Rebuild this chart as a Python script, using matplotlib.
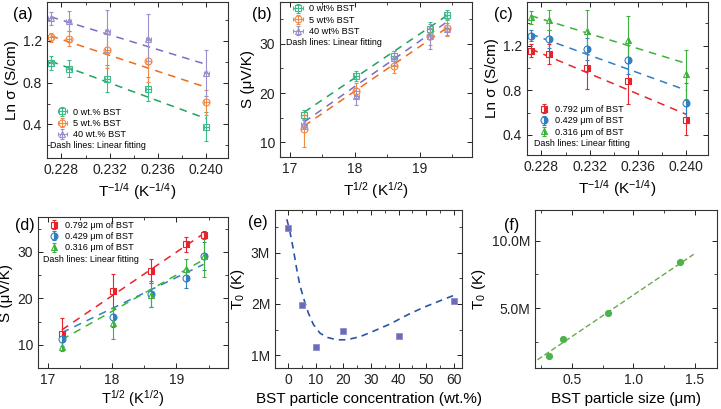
import matplotlib

matplotlib.use("Agg")

import matplotlib.pyplot as plt  # noqa: E402
from matplotlib.ticker import FuncFormatter, MultipleLocator  # noqa: E402

plt.rcParams["font.family"] = ["Liberation Sans", "DejaVu Sans"]
plt.rcParams["mathtext.fontset"] = "custom"
plt.rcParams["mathtext.rm"] = "Liberation Sans"
plt.rcParams["mathtext.it"] = "Liberation Sans:italic"
plt.rcParams["mathtext.bf"] = "Liberation Sans:bold"

# x values shared by the temperature panels
inv_t = [0.2271, 0.2286, 0.2318, 0.2352, 0.2400]  # T^-1/4
sqrt_t = [17.22, 18.02, 18.60, 19.15, 19.42]  # T^1/2

wt_labels_a = ["0 wt.% BST", "5 wt.% BST", "40 wt.% BST"]
wt_labels_b = ["0 wt% BST", "5 wt% BST", "40 wt% BST"]
size_labels = ["0.792 μm of BST", "0.429 μm of BST", "0.316 μm of BST"]

# (a) ln sigma vs T^-1/4, BST content
lnsig_0wt = [0.987, 0.933, 0.839, 0.739, 0.378]
lnsig_0wt_err = [0.067, 0.083, 0.13, 0.11, 0.14]
lnsig_5wt = [1.231, 1.219, 1.115, 1.005, 0.613]
lnsig_5wt_err = [0.045, 0.07, 0.18, 0.2, 0.12]
lnsig_40wt = [1.413, 1.388, 1.294, 1.216, 0.896]
lnsig_40wt_err = [0.063, 0.095, 0.2, 0.24, 0.22]
fit_lnsig_0wt = [1.005, 0.456]
fit_lnsig_5wt = [1.247, 0.755]
fit_lnsig_40wt = [1.429, 0.974]

# (b) S vs T^1/2, BST content
s_0wt = [15.5, 23.5, 27.5, 33.0, 35.8]
s_0wt_err = [1.0, 1.0, 1.0, 1.5, 1.0]
s_5wt = [12.6, 20.5, 25.5, 31.5, 33.3]
s_5wt_err = [3.6, 1.5, 1.5, 1.8, 1.8]
s_40wt = [13.8, 19.3, 27.1, 31.5, 33.0]
s_40wt_err = [1.0, 1.8, 1.5, 2.5, 1.2]
fit_s_0wt = [16.1, 35.8]
fit_s_5wt = [13.3, 33.3]
fit_s_40wt = [14.1, 34.5]

# (c) ln sigma vs T^-1/4, particle size
lnsig_0792 = [1.155, 1.126, 1.0, 0.887, 0.53]
lnsig_0792_err = [0.06, 0.09, 0.19, 0.21, 0.13]
lnsig_0429 = [1.289, 1.26, 1.17, 1.075, 0.688]
lnsig_0429_err = [0.05, 0.08, 0.1, 0.13, 0.18]
lnsig_0316 = [1.453, 1.432, 1.334, 1.254, 0.941]
lnsig_0316_err = [0.06, 0.09, 0.18, 0.21, 0.22]
fit_lnsig_0792 = [1.17, 0.584]
fit_lnsig_0429 = [1.304, 0.80]
fit_lnsig_0316 = [1.468, 1.04]

# (d) S vs T^1/2, particle size
s_0792 = [12.3, 21.6, 25.9, 31.6, 33.6]
s_0792_err = [3.4, 3.7, 2.5, 1.7, 0.8]
s_0429 = [11.2, 15.9, 20.9, 24.3, 29.1]
s_0429_err = [1.5, 2.0, 2.8, 2.0, 3.0]
s_0316 = [9.6, 14.6, 20.7, 26.4, 29.1]
s_0316_err = [1.0, 3.4, 2.5, 2.0, 4.5]
fit_s_0792 = [13.2, 33.9]
fit_s_0429 = [12.6, 27.3]
fit_s_0316 = [11.1, 28.3]

# (e) T0 vs concentration
conc = [0, 5, 10, 20, 40, 60]
t0_conc = [3.485e6, 1.974e6, 1.155e6, 1.48e6, 1.383e6, 2.05e6]
curve_conc = [-0.5, 0.6, 1.8, 3.0, 4.2, 5.5, 7.3, 9.1, 11.5, 13.9, 17.6, 21.2,
              26, 31, 37, 43, 49, 55, 61.2]
curve_t0 = [3.65e6, 3.41e6, 3.08e6, 2.70e6, 2.37e6, 2.12e6, 1.82e6, 1.60e6,
            1.43e6, 1.35e6, 1.30e6, 1.30e6, 1.36e6, 1.47e6, 1.61e6, 1.78e6,
            1.93e6, 2.06e6, 2.19e6]

# (f) T0 vs particle size
size_um = [0.316, 0.429, 0.792, 1.38]
t0_size = [1.41e6, 2.70e6, 4.67e6, 8.42e6]
fit_size = [0.22, 1.49]
fit_t0_size = [1.15e6, 9.0e6]

GREEN_A, ORANGE_A, PURPLE_A = "#3dbb8a", "#f08a45", "#9a90d0"
GREEN_AF, ORANGE_AF, PURPLE_AF = "#22a35e", "#f06a1c", "#7a6ec4"
RED, BLUE, GREEN_C = "#e8232b", "#2f7fc1", "#3cb43c"

W, H = 721, 409


def add_axes_px(fig, left, top, right, bottom):
    return fig.add_axes([left / W, 1 - bottom / H, (right - left) / W, (bottom - top) / H])


def style_axes(ax):
    ax.tick_params(which="both", direction="in", top=True, right=True, labelsize=10,
                   colors="#222222")
    ax.tick_params(which="major", length=3.5, width=0.7)
    ax.tick_params(which="minor", length=2, width=0.6)
    for spine in ax.spines.values():
        spine.set_linewidth(0.8)
        spine.set_color("#333333")


def draw_series(ax, x, y, err, xerr, color, marker, label, **kw):
    return ax.errorbar(x, y, yerr=err, xerr=xerr, fmt=marker, color=color, ms=5,
                       mew=0.8, elinewidth=0.8, capsize=1.5, capthick=0.6,
                       label=label, **kw)


def add_legend(ax, handles, labels, anchor, loc):
    leg = ax.legend(handles, labels, loc=loc, bbox_to_anchor=anchor, frameon=False,
                    fontsize=6.6, handlelength=1.0, handletextpad=0.7,
                    labelspacing=0.25, borderpad=0.0, borderaxespad=0.0)
    return leg


def main() -> None:
    fig = plt.figure(figsize=(7.21, 4.09), dpi=100)

    # ---- (a)
    ax = add_axes_px(fig, 47, 2, 228, 158)
    h = []
    for y, e, fit, col, fcol, mk in [
        (lnsig_0wt, lnsig_0wt_err, fit_lnsig_0wt, GREEN_A, GREEN_AF, "s"),
        (lnsig_5wt, lnsig_5wt_err, fit_lnsig_5wt, ORANGE_A, ORANGE_AF, "o"),
        (lnsig_40wt, lnsig_40wt_err, fit_lnsig_40wt, PURPLE_A, PURPLE_AF, "^"),
    ]:
        ax.plot([inv_t[0], inv_t[-1]], fit, ls=(0, (5, 4)), color=fcol, lw=1.1)
        h.append(draw_series(ax, inv_t, y, e, 0.0002, col, mk, None, mfc="none"))
    ax.set_xlim(0.2268, 0.2418)
    ax.set_ylim(0.08, 1.57)
    ax.xaxis.set_major_locator(MultipleLocator(0.004))
    ax.xaxis.set_minor_locator(MultipleLocator(0.002))
    ax.yaxis.set_major_locator(MultipleLocator(0.4))
    ax.yaxis.set_minor_locator(MultipleLocator(0.2))
    style_axes(ax)
    ax.set_xlabel(r"T$^{-1/4}$ (K$^{-1/4}$)", fontsize=11, labelpad=3)
    ax.set_ylabel("Ln σ (S/cm)", fontsize=11, labelpad=3)
    add_legend(ax, h, wt_labels_a, (0.06, 0.12), "lower left")
    ax.text(0.015, 0.078, "Dash lines: Linear fitting", transform=ax.transAxes,
            fontsize=6.4, va="center")

    # ---- (b)
    ax = add_axes_px(fig, 280, 2, 472, 157)
    h = []
    for y, e, fit, col, fcol, mk in [
        (s_0wt, s_0wt_err, fit_s_0wt, GREEN_A, GREEN_AF, "s"),
        (s_5wt, s_5wt_err, fit_s_5wt, ORANGE_A, ORANGE_AF, "o"),
        (s_40wt, s_40wt_err, fit_s_40wt, PURPLE_A, PURPLE_AF, "^"),
    ]:
        ax.plot([sqrt_t[0], sqrt_t[-1]], fit, ls=(0, (5, 4)), color=fcol, lw=1.1)
        h.append(draw_series(ax, sqrt_t, y, e, 0.04, col, mk, None, mfc="none"))
    ax.set_xlim(16.85, 19.8)
    ax.set_ylim(7.0, 38.5)
    ax.xaxis.set_major_locator(MultipleLocator(1))
    ax.xaxis.set_minor_locator(MultipleLocator(0.5))
    ax.yaxis.set_major_locator(MultipleLocator(10))
    ax.yaxis.set_minor_locator(MultipleLocator(5))
    style_axes(ax)
    ax.set_xlabel(r"T$^{1/2}$ (K$^{1/2}$)", fontsize=11, labelpad=3)
    ax.set_ylabel("S (μV/K)", fontsize=11, labelpad=3)
    add_legend(ax, h, wt_labels_b, (0.07, 0.985), "upper left")
    ax.text(0.03, 0.74, "Dash lines: Linear fitting", transform=ax.transAxes,
            fontsize=6.4, va="center")

    # ---- (c)
    ax = add_axes_px(fig, 527, 2, 708, 155)
    h = []
    for y, e, fit, col, mk in [
        (lnsig_0792, lnsig_0792_err, fit_lnsig_0792, RED, "s"),
        (lnsig_0429, lnsig_0429_err, fit_lnsig_0429, BLUE, "o"),
        (lnsig_0316, lnsig_0316_err, fit_lnsig_0316, GREEN_C, "^"),
    ]:
        ax.plot([inv_t[0], inv_t[-1]], fit, ls=(0, (5, 4)), color=col, lw=1.1)
        h.append(draw_series(ax, inv_t, y, e, None, col, mk, None,
                             fillstyle="right", markerfacecoloralt="white"))
    ax.set_xlim(0.2268, 0.2418)
    ax.set_ylim(0.22, 1.59)
    ax.xaxis.set_major_locator(MultipleLocator(0.004))
    ax.xaxis.set_minor_locator(MultipleLocator(0.002))
    ax.yaxis.set_major_locator(MultipleLocator(0.4))
    ax.yaxis.set_minor_locator(MultipleLocator(0.2))
    style_axes(ax)
    ax.set_xlabel(r"T$^{-1/4}$ (K$^{-1/4}$)", fontsize=11, labelpad=3)
    ax.set_ylabel("Ln σ (S/cm)", fontsize=11, labelpad=3)
    add_legend(ax, h, size_labels, (0.07, 0.12), "lower left")
    ax.text(0.04, 0.075, "Dash lines: Linear fitting", transform=ax.transAxes,
            fontsize=6.4, va="center")

    # ---- (d)
    ax = add_axes_px(fig, 38, 217, 228, 368)
    h = []
    for y, e, fit, col, mk in [
        (s_0792, s_0792_err, fit_s_0792, RED, "s"),
        (s_0429, s_0429_err, fit_s_0429, BLUE, "o"),
        (s_0316, s_0316_err, fit_s_0316, GREEN_C, "^"),
    ]:
        ax.plot([sqrt_t[0], sqrt_t[-1]], fit, ls=(0, (5, 4)), color=col, lw=1.1)
        h.append(draw_series(ax, sqrt_t, y, e, None, col, mk, None,
                             fillstyle="right", markerfacecoloralt="white"))
    ax.set_xlim(16.85, 19.8)
    ax.set_ylim(5.0, 37.5)
    ax.xaxis.set_major_locator(MultipleLocator(1))
    ax.xaxis.set_minor_locator(MultipleLocator(0.5))
    ax.yaxis.set_major_locator(MultipleLocator(10))
    ax.yaxis.set_minor_locator(MultipleLocator(5))
    style_axes(ax)
    ax.set_xlabel(r"T$^{1/2}$ (K$^{1/2}$)", fontsize=10.5, labelpad=1)
    ax.set_ylabel("S (μV/K)", fontsize=11, labelpad=3)
    add_legend(ax, h, size_labels, (0.06, 0.975), "upper left")
    ax.text(0.025, 0.72, "Dash lines: Linear fitting", transform=ax.transAxes,
            fontsize=6.4, va="center")

    # ---- (e)
    ax = add_axes_px(fig, 275, 210, 462, 368)
    ax.plot(curve_conc, curve_t0, ls=(0, (4, 3)), color="#2a55a5", lw=1.2)
    ax.plot(conc, t0_conc, "s", color="#6b6bb8", mec="#8d8dd0", ms=4.5, mew=0.6)
    ax.set_xlim(-4.8, 63)
    ax.set_ylim(0.75e6, 3.83e6)
    ax.xaxis.set_major_locator(MultipleLocator(10))
    ax.xaxis.set_minor_locator(MultipleLocator(5))
    ax.yaxis.set_major_locator(MultipleLocator(1e6))
    ax.yaxis.set_minor_locator(MultipleLocator(0.5e6))
    ax.yaxis.set_major_formatter(FuncFormatter(lambda v, _: f"{v / 1e6:.0f}M"))
    style_axes(ax)
    ax.set_xlabel("BST particle concentration (wt.%)", fontsize=11, labelpad=4)
    ax.set_ylabel(r"T$_0$ (K)", fontsize=11, labelpad=3)

    # ---- (f)
    ax = add_axes_px(fig, 535, 210, 717, 368)
    ax.plot(fit_size, fit_t0_size, ls=(0, (4, 2)), color="#6aa84f", lw=1.0)
    ax.plot(size_um, t0_size, "o", color="#4cb34c", ms=5.2, mew=0)
    ax.set_xlim(0.2, 1.68)
    ax.set_ylim(0.54e6, 12.3e6)
    ax.xaxis.set_major_locator(MultipleLocator(0.5))
    ax.xaxis.set_minor_locator(MultipleLocator(0.25))
    ax.yaxis.set_major_locator(MultipleLocator(5e6))
    ax.yaxis.set_minor_locator(MultipleLocator(2.5e6))
    ax.yaxis.set_major_formatter(FuncFormatter(lambda v, _: f"{v / 1e6:.1f}M"))
    style_axes(ax)
    ax.set_xlabel("BST particle size (μm)", fontsize=11, labelpad=4)
    ax.set_ylabel(r"T$_0$ (K)", fontsize=11, labelpad=3)

    # panel letters, outside each frame above the y tick labels
    for letter, px, py in [("(a)", 23, 15), ("(b)", 262, 15), ("(c)", 503, 15),
                           ("(d)", 25, 225), ("(e)", 258, 223), ("(f)", 512, 225)]:
        fig.text(px / W, 1 - py / H, letter, fontsize=11.5, ha="center", va="center")

    fig.savefig("out.png", dpi=100)
    plt.close(fig)


if __name__ == "__main__":
    main()
